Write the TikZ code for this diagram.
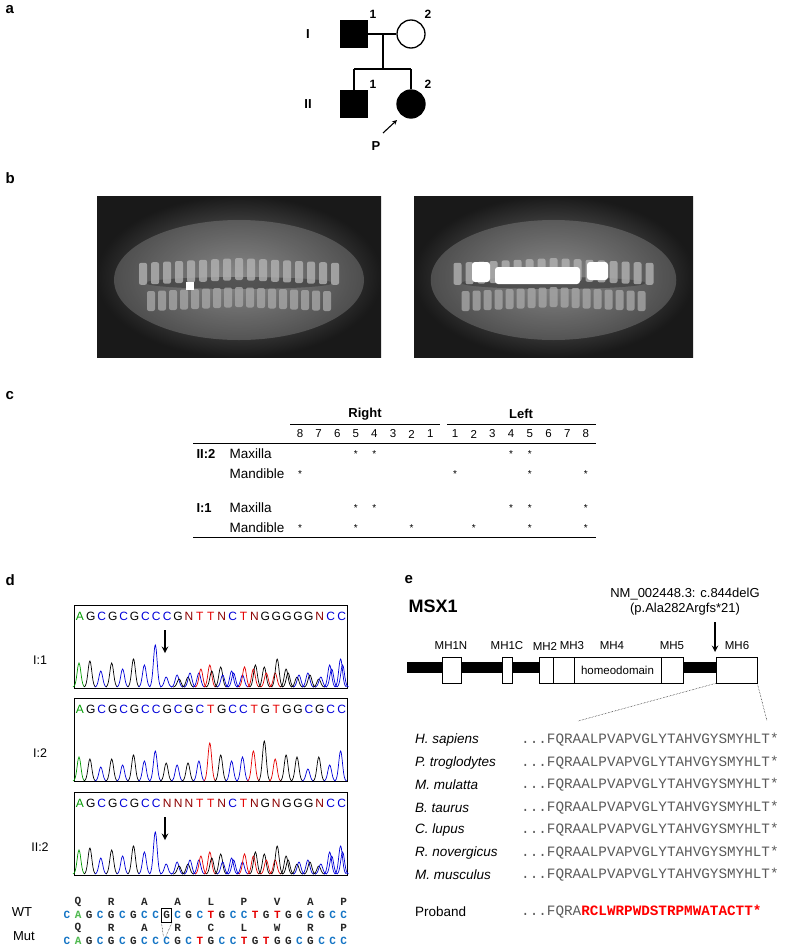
\documentclass[tikz,border=0pt]{standalone}
\usepackage{fontspec}
\setmainfont{Liberation Sans}
\setmonofont{Liberation Mono}
\usepackage{amsmath}
\usetikzlibrary{positioning,shapes.geometric,calc}
\colorlet{nA}{green!60!black}
\colorlet{nC}{blue!85!black}
\colorlet{nG}{black}
\colorlet{nT}{red!90!black}
\colorlet{nN}{red!55!black}
\colorlet{sC}{cyan!55!blue}
\definecolor{seqgray}{RGB}{90,90,90}
\newcommand\peak[4]{\draw[#4,line width=0.7pt] plot[domain=-6:6,samples=17,smooth] ({#1+\x},{#2-(#3)*exp(-(\x*\x)/7)});}
\tikzset{
  panel/.style={font=\bfseries\fontsize{15}{15}\selectfont,anchor=west},
  gen/.style={font=\bfseries\fontsize{13}{13}\selectfont},
  pidx/.style={font=\bfseries\fontsize{12}{12}\selectfont},
  tab/.style={font=\fontsize{13.5}{13.5}\selectfont},
  tabn/.style={font=\fontsize{11.5}{11.5}\selectfont},
  tabb/.style={font=\bfseries\fontsize{13}{13}\selectfont},
  chrom/.style={draw,line width=0.8pt},
  dom/.style={draw,fill=white,line width=0.7pt},
  spec/.style={font=\itshape\fontsize{13.5}{13.5}\selectfont,anchor=west,inner sep=0pt},
  aseq/.style={font=\ttfamily\fontsize{14.3}{14.3}\selectfont,text=seqgray,anchor=west,inner sep=0pt},
  nt/.style={font=\ttfamily\bfseries\fontsize{11}{11}\selectfont,inner sep=0pt}
}
\begin{document}
\begin{tikzpicture}[x=1pt,y=1pt,yscale=-1]
    \useasboundingbox (0,0) rectangle (787,948);

    % panel letters
    \node[panel] (la) at (2,10) {a};
    \node[panel] (lb) at (2,178) {b};
    \node[panel] (lc) at (2,396) {c};
    \node[panel] (ld) at (2,580) {d};
    \node[panel] (le) at (401,580) {e};

    %% a: pedigree
    \node[draw,fill=black,minimum size=27pt,inner sep=0pt,line width=1.3pt] (f1) at (354,34) {};
    \node[draw,circle,fill=white,minimum size=28pt,inner sep=0pt,line width=1.3pt] (m1) at (411,34) {};
    \node[draw,fill=black,minimum size=27pt,inner sep=0pt,line width=1.3pt] (s1) at (354,104) {};
    \node[draw,circle,fill=black,minimum size=28pt,inner sep=0pt,line width=1.3pt] (d2) at (411,104) {};
    \draw[line width=1.3pt] (f1.east) -- (m1.west);
    \coordinate (mate) at (383,34);
    \coordinate (sib) at (383,69);
    \draw[line width=1.3pt] (mate) -- (sib) (354,69) -- (411,69) (354,69) -- (s1.north) (411,69) -- (d2.north);
    \node[gen] (g1) at (308,34) {I};
    \node[gen] (g2) at (308,104) {II};
    \node[pidx] (n11) at (373,14) {1};
    \node[pidx] (n12) at (428,14) {2};
    \node[pidx] (n21) at (373,84) {1};
    \node[pidx] (n22) at (428,84) {2};
    \node[gen] (prob) at (376,146) {P};
    \draw[-stealth,line width=1.1pt] (383,133) -- (397,120);

    %% b: radiographs
    \foreach \xa/\xb in {97/381,414/693}{
      \shade[inner color=black!50,outer color=black!90] (\xa,196) rectangle (\xb,357);
      \fill[black!40,opacity=0.35] ({(\xa+\xb)/2},280) ellipse ({(\xb-\xa)*0.44} and 60);
      \fill[black!75,opacity=0.7] ({(\xa+\xb)/2},283) ellipse ({(\xb-\xa)*0.33} and 6);
      \foreach \k in {-8,...,8}{
        \fill[black!30,rounded corners=2pt,opacity=0.8] ({(\xa+\xb)/2+\k*12-4},{258+abs(\k)*0.6}) rectangle ++(8,22);
        \fill[black!35,rounded corners=2pt,opacity=0.8] ({(\xa+\xb)/2+\k*11-4},{287+abs(\k)*0.5}) rectangle ++(8,20);
      }
    }
    \fill[white,rounded corners=3pt] (472,262) rectangle (490,282) (495,267) rectangle (580,284) (587,262) rectangle (608,280);
    \fill[white] (186,282) rectangle (194,290);

    %% c: table
    \node[tabb] (hr) at (365,414) {Right};
    \node[tabb] (hl) at (521,414) {Left};
    \draw[line width=0.8pt] (290,424) -- (440,424) (447,424) -- (596,424);
    \draw[line width=1pt] (193,443) -- (596,443) (193,537) -- (596,537);
    \foreach \n [count=\i from 0] in {8,7,6,5,4,3,2,1}
      \node[tabn] (cr\n) at ({300+18.6*\i},434) {\n};
    \foreach \n [count=\i from 0] in {1,2,3,4,5,6,7,8}
      \node[tabn] (cl\n) at ({455+18.7*\i},434) {\n};
    \node[tabb,anchor=west] (r1) at (193,454) {II:2};
    \node[tabb,anchor=west] (r3) at (193,508) {I:1};
    \foreach \y/\t in {454/Maxilla,474/Mandible,508/Maxilla,528/Mandible}
      \node[tab,anchor=west] at (226,\y) {\t};
    \foreach \c/\y in {cr5/454,cr4/454,cl4/454,cl5/454,
                      cr8/474,cl1/474,cl5/474,cl8/474,
                      cr5/508,cr4/508,cl4/508,cl5/508,cl8/508,
                      cr8/528,cr5/528,cr2/528,cl2/528,cl5/528,cl8/528}
      \node[font=\fontsize{10}{10}\selectfont] at (\c |- 0,\y) {*};

    %% d: chromatograms
    \foreach \yt/\lab in {605/I:1,698/I:2,792/II:2}{
      \draw[chrom] (74,\yt) rectangle (347,\yt+83);
      \node[font=\fontsize{12.5}{12.5}\selectfont] at (40,\yt+55) {\lab};
    }
    \foreach \s [count=\i from 0] in {A,G,C,G,C,G,C,C,C,G,N,T,T,N,C,T,N,G,G,G,G,G,N,C,C}
      \node[font=\fontsize{12}{12}\selectfont,text=n\s] (q1\i) at ({80+10.9*\i},616) {\s};
    \foreach \s [count=\i from 0] in {A,G,C,G,C,G,C,C,G,C,G,C,T,G,C,C,T,G,T,G,G,C,G,C,C}
      \node[font=\fontsize{12}{12}\selectfont,text=n\s] (q2\i) at ({80+10.9*\i},709) {\s};
    \foreach \s [count=\i from 0] in {A,G,C,G,C,G,C,C,N,N,N,T,T,N,C,T,N,G,N,G,G,G,N,C,C}
      \node[font=\fontsize{12}{12}\selectfont,text=n\s] (q3\i) at ({80+10.9*\i},803) {\s};
    % clean trace
    \foreach \c/\h [count=\i from 0] in {nA/24,nG/22,nC/14,nG/22,nC/16,nG/26,nC/20,nC/30,nG/18,nC/16,nG/18,nC/20,nT/38,nG/26,nC/20,nC/24,nT/30,nG/40,nT/22,nG/26,nG/24,nC/12,nG/24,nC/16,nC/30}
      \peak{79+10.9*\i}{781}{\h}{\c};
    % mixed traces
    \foreach \yb in {687,874}{
      \foreach \c/\h [count=\i from 0] in {nA/24,nG/26,nC/16,nG/24,nC/18,nG/28,nC/22,nC/42,nC/10}
        \peak{79+10.9*\i}{\yb}{\h}{\c};
      \foreach \ca/\cb/\ha/\hb [count=\i from 9] in {nC/nG/12/8,nG/nC/10/14,nC/nT/14/18,nT/nG/22/16,nG/nC/20/12,nC/nC/16/14,nC/nT/12/20,nT/nG/18/22,nG/nT/20/14,nT/nG/14/28,nG/nG/18/14,nG/nC/10/12,nC/nG/14/12,nG/nC/8/10,nC/nC/22/18,nC/nC/28/22}{
        \peak{79+10.9*\i}{\yb}{\ha}{\ca};
        \peak{81+10.9*\i}{\yb}{\hb}{\cb};
      }
      \draw[-stealth,line width=1.8pt] (165,\yb-57) -- (165,\yb-34);
    }
    % WT / Mut sequences
    \node[font=\fontsize{13}{13}\selectfont] (wt) at (22,912) {WT};
    \node[font=\fontsize{13}{13}\selectfont] (mut) at (24,936) {Mut};
    \foreach \s [count=\i from 0] in {C,A,G,C,G,C,G,C,C,G,C,G,C,T,G,C,C,T,G,T,G,G,C,G,C,C}{
      \if\s C\def\cc{sC}\else\if\s A\def\cc{nA!70}\else\if\s T\def\cc{nT}\else\def\cc{black!85}\fi\fi\fi
      \node[nt,text=\cc] (w\i) at ({67+11.07*\i},915) {\s};
    }
    \foreach \s [count=\i from 0] in {C,A,G,C,G,C,G,C,C,C,G,C,T,G,C,C,T,G,T,G,G,C,G,C,C,C}{
      \if\s C\def\cc{sC}\else\if\s A\def\cc{nA!70}\else\if\s T\def\cc{nT}\else\def\cc{black!85}\fi\fi\fi
      \node[nt,text=\cc] (m\i) at ({67+11.07*\i},941) {\s};
    }
    \foreach \a [count=\i from 0] in {Q,R,A,A,L,P,V,A,P}
      \node[nt,text=black!85] at ({78+33.2*\i},902) {\a};
    \foreach \a [count=\i from 0] in {Q,R,A,R,C,L,W,R,P}
      \node[nt,text=black!85] at ({78+33.2*\i},928) {\a};
    \node[draw,line width=0.7pt,minimum width=10pt,minimum height=14pt,inner sep=0pt] (boxg) at (w9) {};
    \draw[densely dotted,line width=0.5pt] (boxg.south west) -- ($(m9.north)+(-3,0)$) (boxg.south east) -- ($(m9.north)+(-1,0)$);

    %% e: MSX1 domains
    \node[font=\bfseries\fontsize{18}{18}\selectfont,anchor=west] (gene) at (405,606) {MSX1};
    \node[font=\fontsize{13}{15}\selectfont,align=center] (mutn) at (685,602) {NM\_002448.3: c.844delG\\(p.Ala282Argfs*21)};
    \draw[-stealth,line width=1.8pt] (715,622) -- (715,652);
    \fill (407,662) rectangle (716,673);
    \foreach \nm/\xa/\xb/\tx in {MH1N/442/461/,MH1C/502/512/,MH2/539/553/,MH3/553/574/,MH4/574/661/homeodomain,MH5/661/683/,MH6/716/757/}{
      \node[dom,minimum width={(\xb-\xa)*1pt},minimum height=26pt,inner sep=0pt,font=\fontsize{11.5}{11.5}\selectfont] (d\nm) at ({(\xa+\xb)/2},670) {\tx};
    }
    \foreach \nm/\xx in {MH1N/451,MH1C/507,MH2/545,MH3/572,MH4/612,MH5/672,MH6/737}
      \node[font=\fontsize{11.5}{11.5}\selectfont] at (\xx,646) {\nm};
    \coordinate (zl) at (578,721);
    \coordinate (zr) at (767,721);
    \draw[densely dotted,line width=0.5pt] (dMH6.south west) -- (zl) (dMH6.south east) -- (zr);
    \foreach \sp [count=\i from 0] in {H. sapiens,P. troglodytes,M. mulatta,B. taurus,C. lupus,R. novergicus,M. musculus}{
      \node[spec] at (415,{740+22.5*\i}) {\sp};
      \node[aseq] at (521,{740+22.5*\i}) {...FQRAALPVAPVGLYTAHVGYSMYHLT*};
    }
    \node[font=\fontsize{13.5}{13.5}\selectfont,anchor=west,inner sep=0pt] (prb) at (415,912) {Proband};
    \node[aseq] (pseq) at (521,912) {...FQRA\textcolor{red}{\bfseries RCLWRPWDSTRPMWATACTT*}};
\end{tikzpicture}
\end{document}
